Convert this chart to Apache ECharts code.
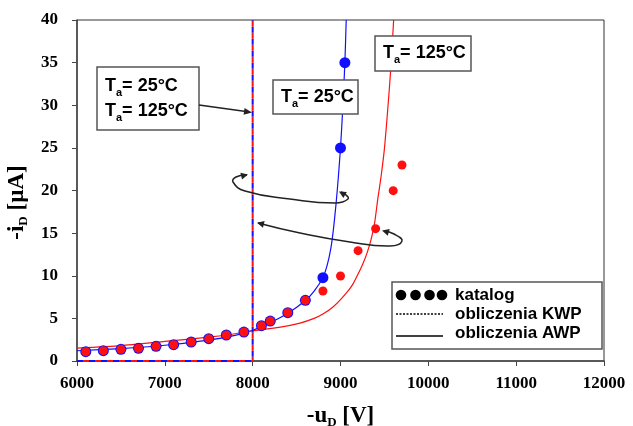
<!DOCTYPE html>
<html><head><meta charset="utf-8">
<script src="https://cdn.jsdelivr.net/npm/echarts@6/dist/echarts.min.js"></script>
<style>html,body{margin:0;padding:0;background:#fff}#c{width:633px;height:426px}</style>
</head><body><div id="c"></div>
<script>
// ---- data ----
const catalog25X = [6100,6300,6500,6700,6900,7100,7300,7500,7700,7900,8100,8200,8400,8600,8800,9000,9050];
const catalog25Y = [1.09,1.21,1.37,1.49,1.72,1.91,2.23,2.62,3.05,3.40,4.14,4.69,5.67,7.12,9.77,25.0,35.0];
const catalog125X = [6100,6300,6500,6700,6900,7100,7300,7500,7700,7900,8100,8200,8400,8600,8800,9000,9200,9400,9600,9700];
const catalog125Y = [1.09,1.21,1.37,1.49,1.72,1.91,2.23,2.62,3.05,3.40,4.14,4.69,5.67,7.12,8.21,9.97,12.94,15.52,19.98,22.99];
const awp25X = [6000,6500,7000,7500,7800,8000,8200,8400,8600,8700,8800,8850,8890,8920,8950,8975,9000,9025,9050,9065];
const awp25Y = [1.20,1.45,1.85,2.45,3.00,3.60,4.50,5.60,7.10,8.20,9.80,11.3,13.2,15.5,18.5,21.5,25.0,29.5,35.0,40.0];
const awp125X = [6000,6500,7000,7500,7800,8000,8300,8540,8700,8800,8918,9000,9100,9146,9200,9250,9300,9347,9390,9423,9460,9499,9530,9560,9580,9605];
const awp125Y = [1.50,1.80,2.30,2.80,3.20,3.55,3.95,4.45,5.00,5.50,6.37,7.20,8.40,9.10,10.2,11.3,12.6,14.2,16.3,18.9,21.5,24.8,28.5,32.5,35.5,40.0];
const kwpX = [6000,8000,8000];
const kwpY = [0,0,40];
const legendLabels = ['katalog','obliczenia KWP','obliczenia AWP'];

const zip = (xs, ys) => xs.map((x, i) => [x, ys[i]]);
const BLUE = '#1010ff', RED = '#ff1010';
const serif = 'Liberation Serif';
const sans = 'Liberation Sans';

const chart = echarts.init(document.getElementById('c'));

function arrowHead(tip, from, len, half) {
  const dx = tip[0] - from[0], dy = tip[1] - from[1];
  const d = Math.hypot(dx, dy); const ux = dx / d, uy = dy / d;
  const bx = tip[0] - ux * len, by = tip[1] - uy * len;
  return { type: 'polygon', z: 100, shape: { points: [tip, [bx - uy * half, by + ux * half], [bx + uy * half, by - ux * half]] }, style: { fill: '#222' } };
}
function curve(points) {
  return { type: 'polyline', z: 100, shape: { points, smooth: 0.5 }, style: { stroke: '#222', lineWidth: 1.5, fill: null } };
}
const rich = {
  b: { fontFamily: sans, fontWeight: 'bold', fontSize: 18, color: '#000', lineHeight: 24 },
  s: { fontFamily: sans, fontWeight: 'bold', fontSize: 11, color: '#000', lineHeight: 6, verticalAlign: 'bottom' }
};
function box(x, y, w, h) {
  return { type: 'rect', z: 99, shape: { x, y, width: w, height: h }, style: { fill: '#fff', stroke: '#555', lineWidth: 1.5 } };
}
function label(x, y, txt) {
  return { type: 'text', z: 101, x, y, style: { text: txt, rich, textVerticalAlign: 'middle' } };
}

const arc1 = [[247,175],[236,177],[233,182],[245,191],[290,199],[335,203],[348,199],[345,194],[341,192]];
const arc2 = [[258,223],[300,233],[350,242],[390,246],[402,241],[394,234],[384,231]];

const graphics = [
  box(97, 67, 102, 63),
  label(105, 86, '{b|T}{s|a}{b|= 25°C}'),
  label(105, 111, '{b|T}{s|a}{b|= 125°C}'),
  box(273, 80, 85, 34),
  label(281, 97, '{b|T}{s|a}{b|= 25°C}'),
  box(375, 36, 96, 35),
  label(383, 53, '{b|T}{s|a}{b|= 125°C}'),
  { type: 'line', z: 100, shape: { x1: 199, y1: 105, x2: 246, y2: 111.5 }, style: { stroke: '#222', lineWidth: 1.5 } },
  arrowHead([252, 112.5], [199, 105], 8, 3.5),
  curve(arc1), arrowHead([248, 174.5], [238, 177], 7, 3.5), arrowHead([339, 191.5], [347, 196], 7, 3.5),
  curve(arc2), arrowHead([257, 222.7], [275, 227], 7, 3.5), arrowHead([382, 230.5], [394, 234], 7, 3.5),
  // legend
  box(392, 282, 210, 67),
  ...[401, 415.5, 429.5, 442].map(cx => ({ type: 'circle', z: 101, shape: { cx, cy: 295, r: 5.3 }, style: { fill: '#000' } })),
  { type: 'line', z: 101, shape: { x1: 396, y1: 314, x2: 443, y2: 314 }, style: { stroke: '#000', lineWidth: 1.3, lineDash: [2, 1.5] } },
  { type: 'line', z: 101, shape: { x1: 396, y1: 336, x2: 443, y2: 336 }, style: { stroke: '#000', lineWidth: 1.3 } },
  ...legendLabels.map((t, i) => ({ type: 'text', z: 101, x: 455, y: [295, 314, 333][i], style: { text: t, font: 'bold 17px ' + sans, fill: '#000', textVerticalAlign: 'middle' } }))
];

const axisFont = { fontFamily: serif, fontWeight: 'bold', fontSize: 17, color: '#000' };
const nameRich = {
  b: { fontFamily: serif, fontWeight: 'bold', fontSize: 23, color: '#000', lineHeight: 26 },
  s: { fontFamily: serif, fontWeight: 'bold', fontSize: 13, color: '#000', lineHeight: 8, verticalAlign: 'bottom' }
};

chart.setOption({
  animation: false,
  grid: { left: 77, top: 20, right: 29, bottom: 65, show: true, borderColor: '#333', borderWidth: 1, containLabel: false, outerBoundsMode: 'none' },
  xAxis: {
    type: 'value', min: 6000, max: 12000, interval: 1000,
    axisLine: { show: true, onZero: false, lineStyle: { color: '#444', width: 1.5 } },
    axisTick: { show: true, inside: false, length: 5, lineStyle: { color: '#444' } },
    axisLabel: Object.assign({ margin: 14, formatter: v => String(v) }, axisFont),
    splitLine: { show: false },
    name: '{b|-u}{s|D}{b| [V]}', nameLocation: 'middle', nameGap: 42,
    nameTextStyle: { rich: nameRich }
  },
  yAxis: {
    type: 'value', min: 0, max: 40, interval: 5,
    axisLine: { show: true, lineStyle: { color: '#444', width: 1.5 } },
    axisTick: { show: true, inside: false, length: 5, lineStyle: { color: '#444' } },
    axisLabel: Object.assign({ margin: 19, formatter: v => String(v) }, axisFont),
    splitLine: { show: false },
    name: '{b|-i}{s|D}{b| [µA]}', nameLocation: 'middle', nameGap: 45,
    nameTextStyle: { rich: nameRich, padding: [0, 24, 0, 0] }
  },
  series: [
    { type: 'line', data: zip(kwpX, kwpY), symbol: 'none', z: 5, lineStyle: { color: BLUE, width: 2, type: [6, 6] } },
    { type: 'line', data: zip(kwpX, kwpY), symbol: 'none', z: 5, lineStyle: { color: RED, width: 2, type: [6, 6], dashOffset: 6 } },
    { type: 'line', data: zip(awp25X, awp25Y), symbol: 'none', smooth: 0.2, z: 3, lineStyle: { color: BLUE, width: 1.2 } },
    { type: 'line', data: zip(awp125X, awp125Y), symbol: 'none', smooth: 0.2, z: 3, lineStyle: { color: RED, width: 1.2 } },
    { type: 'scatter', data: zip(catalog25X, catalog25Y), symbolSize: 11, z: 6, itemStyle: { color: BLUE, opacity: 1 } },
    { type: 'scatter', data: zip(catalog125X, catalog125Y), symbolSize: 9, z: 7, itemStyle: { color: RED, opacity: 1 } }
  ],
  graphic: graphics
});
</script></body></html>
